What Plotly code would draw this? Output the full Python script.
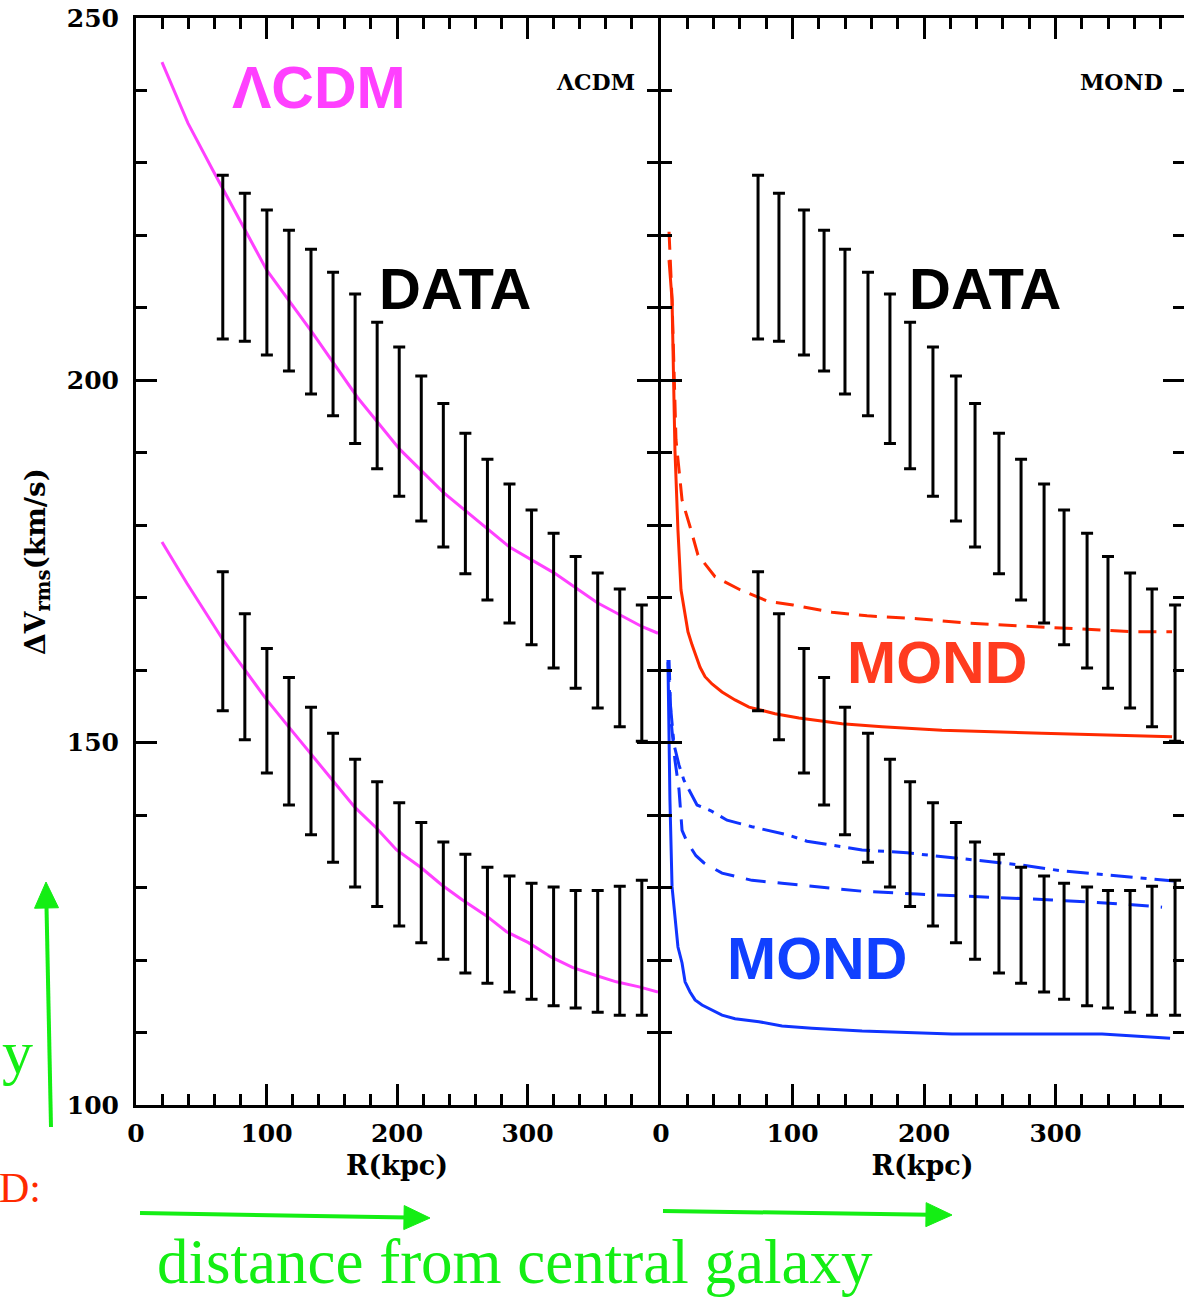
import math
import plotly.graph_objects as go

W, H = 1184, 1300

# ---------------- data ----------------
# radii of the data bins (kpc) as drawn in each panel
r_data_lcdm = [66.5, 83.4, 100.3, 117.2, 134.1, 151.0, 167.9, 184.8, 201.7, 218.6,
               235.5, 252.4, 269.3, 286.2, 303.1, 320.0, 336.9, 353.8, 370.7, 387.6]
r_data_mond = [73.8, 89.7, 108.7, 124.0, 139.9, 157.4, 174.1, 189.4, 206.8, 224.3,
               238.8, 257.0, 273.8, 291.3, 306.5, 324.0, 339.9, 356.7, 373.4, 390.9]

# upper data set (velocity dispersion, km/s) and half-length of error bars
v_upper = [217.0, 215.6, 213.5, 211.0, 208.1, 205.0, 201.6, 197.9, 194.3, 190.6,
           186.9, 183.0, 179.4, 176.1, 172.8, 169.6, 166.6, 164.1, 161.7, 159.6]
e_upper = [11.3, 10.2, 10.0, 9.7, 10.0, 9.9, 10.3, 10.1, 10.3, 10.0,
           9.9, 9.7, 9.7, 9.6, 9.3, 9.3, 9.1, 9.3, 9.5, 9.4]
# lower data set
v_lower = [164.0, 159.1, 154.4, 150.2, 146.1, 142.4, 138.9, 136.0, 133.2, 130.7,
           128.2, 126.4, 124.8, 123.6, 122.6, 121.9, 121.5, 121.2, 121.3, 121.7]
e_lower = [9.6, 8.7, 8.6, 8.8, 8.8, 8.9, 8.8, 8.6, 8.5, 8.3,
           8.1, 8.2, 8.0, 8.0, 8.0, 8.2, 8.1, 8.4, 8.9, 9.3]

# LCDM model curves
lcdm_up_r = [19.9, 39.8, 58.9, 100.2, 135.4, 169.9, 202.0, 235.7, 286.2, 320.6, 353.5, 387.9, 400.0]
lcdm_up_v = [243.9, 235.5, 229.0, 215.2, 206.5, 197.6, 190.5, 184.5, 177.0, 173.4, 169.3, 166.0, 165.1]
lcdm_lo_r = [19.9, 39.0, 66.6, 100.2, 117.8, 150.7, 167.6, 184.4, 199.7, 218.1, 234.1, 250.2,
             267.8, 283.9, 300.7, 318.3, 334.4, 351.9, 368.0, 385.6, 400.0]
lcdm_lo_v = [177.7, 172.0, 164.2, 155.9, 152.0, 144.8, 141.1, 138.2, 135.2, 132.8, 130.4, 128.3,
             126.2, 123.9, 122.4, 120.4, 119.0, 117.9, 117.0, 116.3, 115.6]

# MOND model curves
mond_red_dash_r = [6.1, 8.4, 11.4, 16.0, 22.1, 28.1, 41.1, 60.1, 81.4, 100.4, 130.0, 156.7,
                   194.7, 232.7, 274.5, 318.6, 360.5, 388.6]
mond_red_dash_v = [220.5, 211.1, 191.8, 183.5, 179.8, 175.9, 172.9, 171.1, 169.5, 169.0, 168.0, 167.5,
                   167.1, 166.5, 166.1, 165.7, 165.3, 165.3]
mond_red_solid_r = [6.1, 8.4, 10.6, 12.9, 15.2, 18.3, 20.5, 23.6, 29.7, 33.5, 38.8, 46.4, 56.3,
                    66.9, 76.8, 86.7, 104.9, 122.4, 137.6, 168.1, 213.7, 289.7, 388.6]
mond_red_solid_v = [216.6, 211.1, 190.4, 179.3, 171.1, 167.6, 165.3, 163.5, 160.4, 159.1, 158.1, 157.0, 155.9,
                    154.9, 154.4, 154.0, 153.4, 153.0, 152.6, 152.2, 151.7, 151.3, 150.8]
mond_blue_dd_r = [5.3, 6.8, 9.9, 13.7, 17.5, 22.1, 27.4, 38.0, 50.2, 69.2, 95.8, 111.0, 130.0,
                  152.9, 187.1, 221.3, 251.7, 274.5, 304.9, 331.5, 354.4, 390.1]
mond_blue_dd_v = [161.4, 155.9, 149.7, 146.9, 144.8, 143.2, 141.4, 140.6, 139.3, 138.4, 137.3, 136.4, 135.9,
                  135.2, 134.8, 134.1, 133.5, 133.1, 132.3, 131.9, 131.5, 130.9]
mond_blue_dash_r = [6.1, 7.6, 10.6, 13.7, 16.0, 19.8, 26.6, 32.7, 46.4, 69.2, 92.0, 122.4, 152.9,
                    194.7, 244.1, 297.3, 354.4, 381.0]
mond_blue_dash_v = [161.4, 153.1, 147.6, 143.5, 137.9, 136.3, 134.4, 133.4, 132.0, 131.0, 130.6, 130.1, 129.5,
                    129.1, 128.7, 128.3, 127.7, 127.3]
mond_blue_solid_r = [5.3, 6.8, 8.4, 10.6, 12.9, 16.0, 18.3, 22.1, 25.9, 31.2, 38.8, 46.4, 56.3,
                     74.5, 92.0, 114.8, 152.9, 221.3, 335.4, 387.1]
mond_blue_solid_v = [161.1, 142.1, 130.1, 125.5, 121.8, 119.6, 117.0, 115.6, 114.5, 113.8, 113.1, 112.4, 111.9,
                     111.5, 110.9, 110.6, 110.2, 109.8, 109.8, 109.2]

x_tickvals = [0, 100, 200, 300]
y_tickvals = [100, 150, 200, 250]

# ---------------- styles ----------------
MAGENTA = "#ff40ff"
RED = "#ff2a00"
RED_TXT = "#ff3b1f"
BLUE = "#1034ff"
BLUE_TXT = "#1040ff"
GREEN = "#14ee14"
PIX = "DejaVu Serif"
SANS = "Liberation Sans"
SERIF = "Liberation Serif"


def px(x):
    return x / W


def py(y):
    return 1 - y / H


fig = go.Figure()

# LCDM panel curves
fig.add_trace(go.Scatter(x=lcdm_up_r, y=lcdm_up_v, mode="lines",
                         line=dict(color=MAGENTA, width=3), xaxis="x", yaxis="y"))
fig.add_trace(go.Scatter(x=lcdm_lo_r, y=lcdm_lo_v, mode="lines",
                         line=dict(color=MAGENTA, width=3), xaxis="x", yaxis="y"))

# MOND panel curves
fig.add_trace(go.Scatter(x=mond_red_dash_r, y=mond_red_dash_v, mode="lines",
                         line=dict(color=RED, width=3, dash="18px,10px"), xaxis="x2", yaxis="y2"))
fig.add_trace(go.Scatter(x=mond_red_solid_r, y=mond_red_solid_v, mode="lines",
                         line=dict(color=RED, width=3), xaxis="x2", yaxis="y2"))
fig.add_trace(go.Scatter(x=mond_blue_dd_r, y=mond_blue_dd_v, mode="lines",
                         line=dict(color=BLUE, width=3, dash="22px,8px,6px,8px"), xaxis="x2", yaxis="y2"))
fig.add_trace(go.Scatter(x=mond_blue_dash_r, y=mond_blue_dash_v, mode="lines",
                         line=dict(color=BLUE, width=3, dash="20px,12px"), xaxis="x2", yaxis="y2"))
fig.add_trace(go.Scatter(x=mond_blue_solid_r, y=mond_blue_solid_v, mode="lines",
                         line=dict(color=BLUE, width=3), xaxis="x2", yaxis="y2"))

# data with error bars, both panels
for xr, xa, ya in [(r_data_lcdm, "x", "y"), (r_data_mond, "x2", "y2")]:
    for v, e in [(v_upper, e_upper), (v_lower, e_lower)]:
        fig.add_trace(go.Scatter(
            x=xr, y=v, mode="markers", xaxis=xa, yaxis=ya,
            marker=dict(size=2, color="rgba(0,0,0,0)"),
            error_y=dict(type="data", array=e, symmetric=True, color="black",
                         thickness=3, width=6)))

tickfont = dict(family=PIX, size=25, color="black", weight="bold")
axis_common = dict(
    showline=True, linecolor="black", linewidth=3, mirror="ticks",
    ticks="inside", ticklen=21, tickwidth=3, tickcolor="black",
    showgrid=False, zeroline=False, tickfont=tickfont, automargin=False,
)
minor_x = dict(dtick=20, tick0=0, ticks="inside", ticklen=11, tickwidth=3, tickcolor="black")
minor_y = dict(dtick=10, tick0=100, ticks="inside", ticklen=11, tickwidth=3, tickcolor="black")
xtitle = dict(text="R(kpc)", font=dict(family=PIX, size=27, color="black", weight="bold"), standoff=10)
ytitle = dict(text="ΔV<sub>rms</sub>(km/s)", font=dict(family=PIX, size=28, color="black", weight="bold"),
              standoff=14)

fig.update_layout(
    width=W, height=H,
    margin=dict(l=0, r=0, t=0, b=0, pad=0, autoexpand=False),
    paper_bgcolor="white", plot_bgcolor="white",
    showlegend=False,
    xaxis=dict(domain=[px(136), px(658)], range=[0, 400], anchor="y",
               tickvals=x_tickvals, ticklabelstandoff=4, minor=minor_x, title=xtitle, **axis_common),
    xaxis2=dict(domain=[px(661), 1.0], range=[0, 397.7], anchor="y2",
                tickvals=x_tickvals, ticklabelstandoff=4, minor=minor_x, title=xtitle, **axis_common),
    yaxis=dict(domain=[py(1105), py(18)], range=[100, 250], anchor="x",
               tickvals=y_tickvals, ticklabelstandoff=9, minor=minor_y, title=ytitle, **axis_common),
    yaxis2=dict(domain=[py(1105), py(18)], range=[100, 250], anchor="x2", matches="y",
                tickvals=y_tickvals, showticklabels=False, minor=minor_y, **axis_common),
)

ann = []


def text(x, y, s, size, color, family, bold=True, xanchor="center", angle=0):
    ann.append(dict(x=px(x), y=py(y), xref="paper", yref="paper", text=s, showarrow=False,
                    xanchor=xanchor, yanchor="middle", textangle=angle,
                    font=dict(family=family, size=size, color=color, weight="bold" if bold else "normal")))


text(319, 88, "ΛCDM", 59, MAGENTA, SANS)
text(455, 288, "DATA", 58, "black", SANS)
text(985, 288, "DATA", 58, "black", SANS)
text(937, 663, "MOND", 59, RED_TXT, SANS)
text(817, 959, "MOND", 59, BLUE_TXT, SANS)
text(595, 82, "ΛCDM", 22, "black", PIX)
text(1121, 82, "MOND", 22, "black", PIX)
text(0, 1052, "y", 62, GREEN, SERIF, bold=False, xanchor="left")
text(-3, 1188, "D:", 42, RED, SERIF, bold=False, xanchor="left")
text(515, 1262, "distance from central galaxy", 63, GREEN, SERIF, bold=False)
fig.update_layout(annotations=ann)

# green arrows drawn as shapes: shaft + triangular head
shapes = []


def arrow(tx, ty, hx, hy, head_len=26, head_half=12):
    dx, dy = hx - tx, hy - ty
    L = math.hypot(dx, dy)
    ux, uy = dx / L, dy / L
    nx, ny = -uy, ux
    bx, by = hx - ux * head_len, hy - uy * head_len
    shapes.append(dict(type="line", xref="paper", yref="paper",
                       x0=px(tx), y0=py(ty), x1=px(bx + ux * 4), y1=py(by + uy * 4),
                       line=dict(color=GREEN, width=4)))
    p1 = (bx + nx * head_half, by + ny * head_half)
    p2 = (bx - nx * head_half, by - ny * head_half)
    path = "M {} {} L {} {} L {} {} Z".format(px(hx), py(hy), px(p1[0]), py(p1[1]), px(p2[0]), py(p2[1]))
    shapes.append(dict(type="path", xref="paper", yref="paper", path=path,
                       fillcolor=GREEN, line=dict(color=GREEN, width=1)))


arrow(51, 1127, 46, 882)
arrow(140, 1213, 430, 1218)
arrow(663, 1211, 952, 1215)
fig.update_layout(shapes=shapes)

fig.write_html("out.html", config={"displayModeBar": False},
               post_script="document.body.style.margin='0px';document.body.style.overflow='hidden';")
